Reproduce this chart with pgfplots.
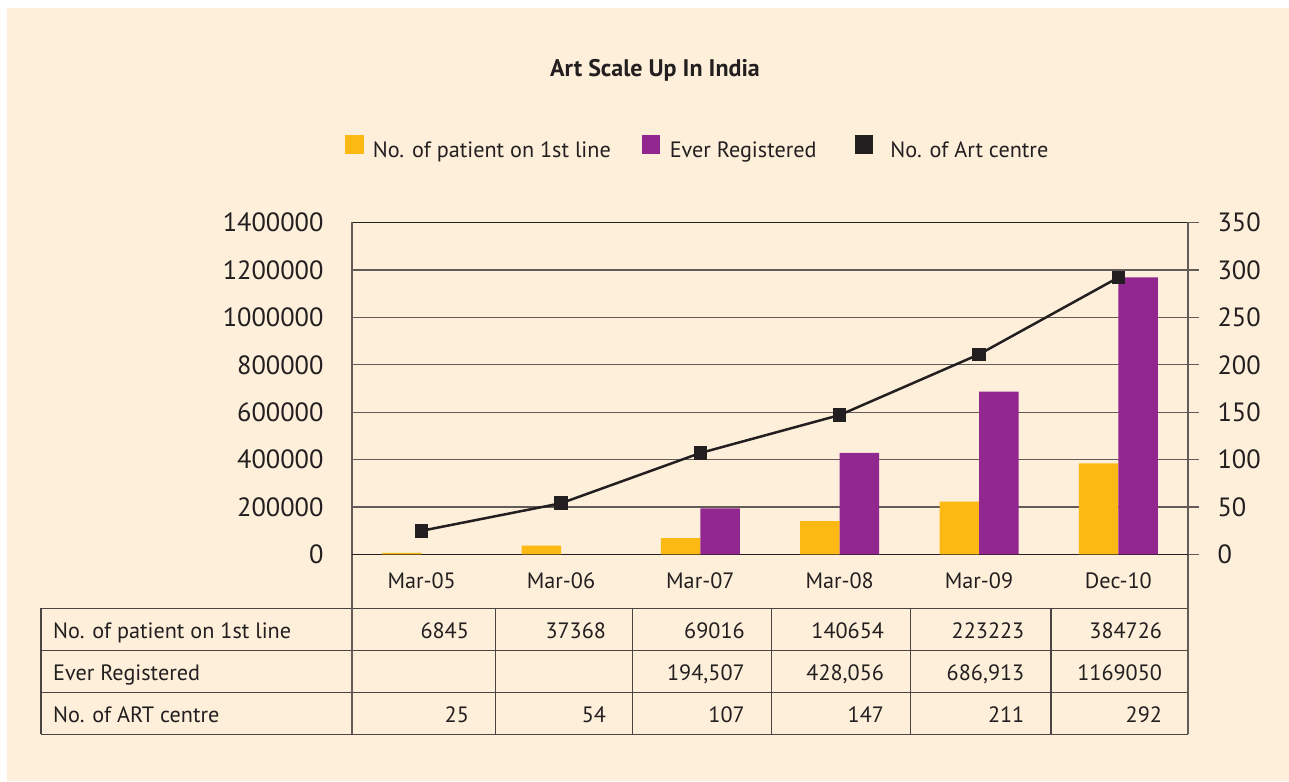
\documentclass[border=0pt]{standalone}
\usepackage{fontspec}
\setmainfont{PT Sans}
\usepackage{pgfplots}
\pgfplotsset{compat=1.18}
\definecolor{cream}{HTML}{FDEFDA}
\definecolor{barorange}{HTML}{FDB913}
\definecolor{barpurple}{HTML}{92278F}
\definecolor{dark}{HTML}{231F20}
\definecolor{gridgray}{HTML}{635B57}
\definecolor{tabline}{HTML}{4A4543}
\newcommand{\tickfont}{\fontsize{26.4}{32}\selectfont}
\newcommand{\txtfont}{\fontsize{22.2}{27}\selectfont}
\begin{document}
\begin{tikzpicture}
\fill[white] (0pt,0pt) rectangle (1289pt,781pt);
\fill[cream] (7pt,0pt) rectangle (1289pt,773pt);
\node[font=\bfseries\fontsize{24}{28}\selectfont, text=dark] at (655pt,711pt) {Art Scale Up In India};
% data table grid
\begin{scope}[draw=tabline, line width=1.5pt]
\draw (41pt,172.7pt) -- (1188pt,172.7pt);
\draw (41pt,130.3pt) -- (1188pt,130.3pt);
\draw (41pt,88.3pt) -- (1188pt,88.3pt);
\draw (41pt,46.7pt) -- (1188pt,46.7pt);
\draw (41pt,172.7pt) -- (41pt,46.7pt);
\foreach \xx in {495.6,632.7,771.4,910.7,1051} \draw (\xx pt,172.7pt) -- (\xx pt,46.7pt);
\end{scope}
\draw[gridgray, line width=1.7pt] (352pt,226.5pt) -- (352pt,46.7pt);
\draw[gridgray, line width=1.7pt] (1188pt,226.5pt) -- (1188pt,46.7pt);
% table text
\begin{scope}[every node/.style={inner sep=0pt, text=dark, font=\txtfont}]
\node[anchor=base west] at (53pt,142.7pt) {No. of patient on 1st line};
\node[anchor=base west] at (53pt,100.7pt) {Ever Registered};
\node[anchor=base west] at (53pt,58.7pt) {No. of ART centre};
\foreach \xx/\va/\vb/\vc in {469.1/6845//25, 606.2/37368//54, 744.9/69016/{194,507}/107, 884.2/140654/{428,056}/147, 1024.5/223223/{686,913}/211, 1162.2/384726/1169050/292}{
  \node[anchor=base east] at (\xx pt,142.7pt) {\va};
  \node[anchor=base east] at (\xx pt,100.7pt) {\vb};
  \node[anchor=base east] at (\xx pt,58.7pt) {\vc};
}
\end{scope}
\begin{axis}[
  at={(352pt,226.5pt)}, anchor=south west, scale only axis,
  width=836pt, height=332pt,
  xmin=-0.5, xmax=5.5, ymin=0, ymax=1400000,
  xtick={0,1,2,3,4,5},
  xticklabels={Mar-05,Mar-06,Mar-07,Mar-08,Mar-09,Dec-10},
  ytick={0,200000,400000,600000,800000,1000000,1200000,1400000},
  scaled y ticks=false,
  major tick length=0pt, tick style={draw=none},
  ymajorgrids, grid style={gridgray, line width=1.3pt},
  separate axis lines,
  x axis line style={dark, line width=1.7pt},
  y axis line style={gridgray, line width=1.7pt},
  yticklabel style={/pgf/number format/fixed, /pgf/number format/1000 sep={}, /pgf/number format/assume math mode=true, anchor=east, xshift=-25pt, font=\tickfont, text=dark},
  xticklabel style={anchor=center, yshift=-26.5pt, font=\txtfont, text=dark},
  ybar=0pt, bar width=39.5pt,
]
\addplot[fill=barorange, draw=none] coordinates {(0,6845) (1,37368) (2,69016) (3,140654) (4,223223) (5,384726)};
\addplot[fill=barpurple, draw=none] coordinates {(2,194507) (3,428056) (4,686913) (5,1169050)};
\end{axis}
\begin{axis}[
  at={(352pt,226.5pt)}, anchor=south west, scale only axis,
  width=836pt, height=332pt,
  xmin=-0.5, xmax=5.5, ymin=0, ymax=350,
  axis x line=none, axis y line*=right,
  ytick={0,50,100,150,200,250,300,350},
  tick align=outside, major tick length=11pt,
  ytick style={draw=gridgray, line width=1.3pt},
  axis line style={gridgray, line width=1.7pt},
  yticklabel style={/pgf/number format/assume math mode=true, anchor=west, xshift=15pt, font=\tickfont, text=dark},
  legend style={at={(-0.00837,1.2268)}, anchor=west, draw=none, fill=none, inner sep=0pt, outer sep=0pt, legend columns=3, font=\txtfont, text=dark, nodes={inner sep=0pt},
    /tikz/every even column/.append style={column sep=31pt},
    /tikz/every odd column/.append style={column sep=10pt}},
]
\addlegendimage{legend image code/.code={\fill[barorange] (0pt,-2pt) rectangle (17.5pt,15.7pt);}}
\addlegendentry{No. of patient on 1st line}
\addlegendimage{legend image code/.code={\fill[barpurple] (0pt,-2pt) rectangle (17.5pt,15.7pt);}}
\addlegendentry{Ever Registered\rule{7pt}{0pt}}
\addlegendimage{legend image code/.code={\fill[dark] (0pt,-2pt) rectangle (17.5pt,15.7pt);}}
\addlegendentry{\hspace{8pt}No. of Art centre}
\addplot[dark, line width=2.5pt, mark=square*, mark size=6.3pt, mark options={solid, fill=dark, line width=0pt}, forget plot] coordinates {(0,25) (1,54) (2,107) (3,147) (4,211) (5,292)};
\end{axis}
\pgfresetboundingbox
\useasboundingbox (0pt,0pt) rectangle (1289pt,781pt);
\end{tikzpicture}
\end{document}
